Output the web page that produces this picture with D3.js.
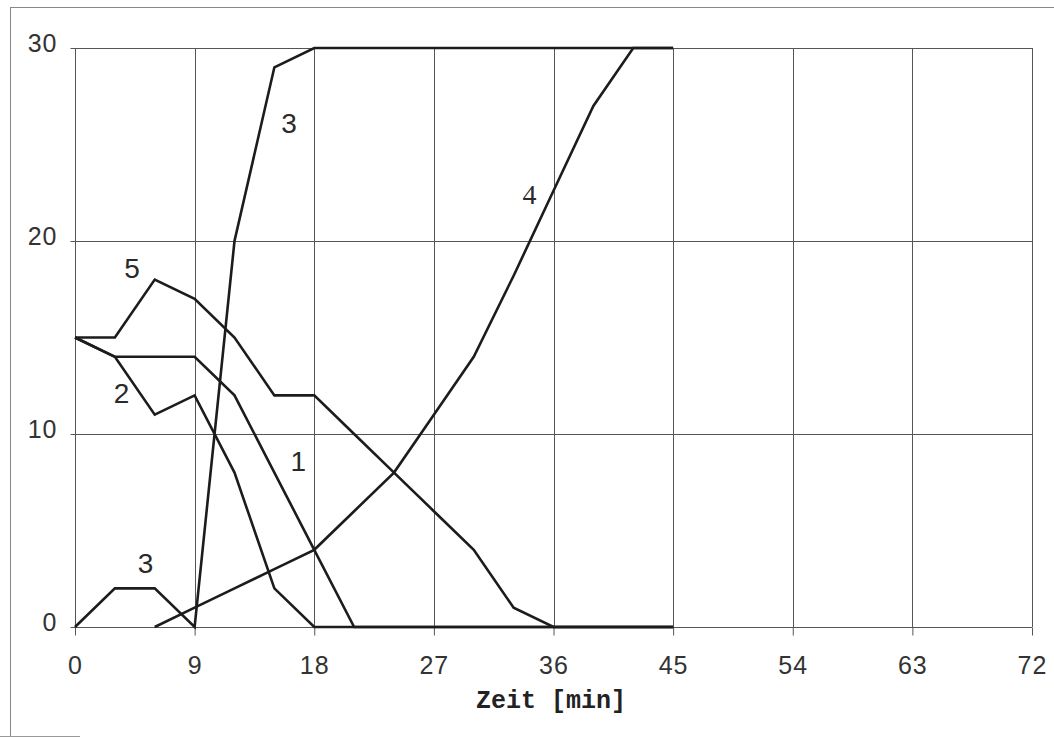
<!DOCTYPE html>
<html>
<head>
<meta charset="utf-8">
<script src="https://cdn.jsdelivr.net/npm/d3@7"></script>
<style>
  html, body { margin: 0; padding: 0; background: #fff; }
  svg { display: block; }
</style>
</head>
<body>
<svg id="chart" width="1054" height="738"></svg>
<script>
// Time axis (minutes) and value axis ticks
const xTicks = [0, 9, 18, 27, 36, 45, 54, 63, 72];
const yTicks = [0, 10, 20, 30];

// Curves 1–5, sampled every 3 minutes
const time = [0, 3, 6, 9, 12, 15, 18, 21, 24, 27, 30, 33, 36, 39, 42, 45];
const curve1 = [15, 14, 14, 14, 12, 8, 4, 0, 0, 0, 0, 0, 0, 0, 0, 0];
const curve2 = [15, 14, 11, 12, 8, 2, 0, 0, 0, 0, 0, 0, 0, 0, 0, 0];
const curve3 = [0, 2, 2, 0, 20, 29, 30, 30, 30, 30, 30, 30, 30, 30, 30, 30];
const curve4 = [null, null, 0, 1, 2, 3, 4, 6, 8, 11, 14, 18.2, 22.6, 27, 30, 30];
const curve5 = [15, 15, 18, 17, 15, 12, 12, 10, 8, 6, 4, 1, 0, 0, 0, 0];
const curves = [curve1, curve2, curve3, curve4, curve5];

// Curve labels: [text, time, value, font]
const labels = [
  ["3", 16.1, 26.1, "sans"],
  ["4", 34.2, 22.4, "serif"],
  ["5", 4.3, 18.6, "sans"],
  ["2", 3.5, 12.1, "sans"],
  ["1", 16.8, 8.6, "sans"],
  ["3", 5.3, 3.3, "sans"]
];

const svg = d3.select("#chart");
const x = d3.scaleLinear().domain([0, 72]).range([75, 1032]);
const y = d3.scaleLinear().domain([0, 30]).range([627, 48]);

// outer frame
svg.append("line").attr("x1", 10).attr("x2", 1054).attr("y1", 7.5).attr("y2", 7.5)
  .attr("stroke", "#888").attr("stroke-width", 1);
svg.append("line").attr("x1", 10.5).attr("x2", 10.5).attr("y1", 7).attr("y2", 736)
  .attr("stroke", "#888").attr("stroke-width", 1);
svg.append("line").attr("x1", 0).attr("x2", 80).attr("y1", 736.5).attr("y2", 736.5)
  .attr("stroke", "#999").attr("stroke-width", 1);

// grid
const grid = svg.append("g").attr("stroke", "#555").attr("stroke-width", 1);
grid.selectAll("line.v").data(xTicks).join("line").attr("class", "v")
  .attr("x1", d => Math.round(x(d)) + 0.5).attr("x2", d => Math.round(x(d)) + 0.5)
  .attr("y1", y(30)).attr("y2", y(0));
grid.selectAll("line.h").data(yTicks).join("line").attr("class", "h")
  .attr("x1", x(0)).attr("x2", x(72))
  .attr("y1", d => Math.round(y(d)) + 0.5).attr("y2", d => Math.round(y(d)) + 0.5);

// axes
const sansFont = "'Liberation Sans', Arial, sans-serif";
const monoFont = "'Liberation Mono', 'Courier New', monospace";
const xAxis = svg.append("g").attr("transform", `translate(0,${Math.round(y(0)) + 0.5})`)
  .call(d3.axisBottom(x).tickValues(xTicks).tickSize(8).tickPadding(21).tickFormat(d3.format("d")));
const yAxis = svg.append("g").attr("transform", `translate(${Math.round(x(0)) + 0.5},0)`)
  .call(d3.axisLeft(y).tickValues(yTicks).tickSize(5).tickPadding(13).tickFormat(d3.format("d")));
[xAxis, yAxis].forEach(g => {
  g.select(".domain").remove();
  g.selectAll(".tick line").attr("stroke", "#555");
  g.selectAll(".tick text").attr("fill", "#333")
    .style("font-family", sansFont).style("font-size", "25px")
    .style("letter-spacing", "1px");
});
// value labels sit a little above their grid line
yAxis.selectAll(".tick text").attr("dy", "0.12em");

// axis title
svg.append("text").attr("x", 551).attr("y", 708).attr("text-anchor", "middle")
  .style("font-family", monoFont).style("font-size", "25px").style("font-weight", "bold")
  .attr("fill", "#222").text("Zeit [min]");

// curves
const line = d3.line()
  .defined(d => d[1] !== null)
  .x(d => x(d[0])).y(d => y(d[1]));
svg.append("g").selectAll("path").data(curves).join("path")
  .attr("d", c => line(time.map((t, i) => [t, c[i]])))
  .attr("fill", "none").attr("stroke", "#1c1c1c").attr("stroke-width", 2.6)
  .attr("stroke-linejoin", "miter");

// curve labels
svg.append("g").selectAll("text").data(labels).join("text")
  .attr("x", d => x(d[1])).attr("y", d => y(d[2]))
  .attr("text-anchor", "middle").attr("dominant-baseline", "central")
  .style("font-family", d => d[3] === "serif" ? "'Liberation Serif', serif" : sansFont)
  .style("font-size", "28px").attr("fill", "#2a2a2a")
  .text(d => d[0]);
</script>
</body>
</html>
